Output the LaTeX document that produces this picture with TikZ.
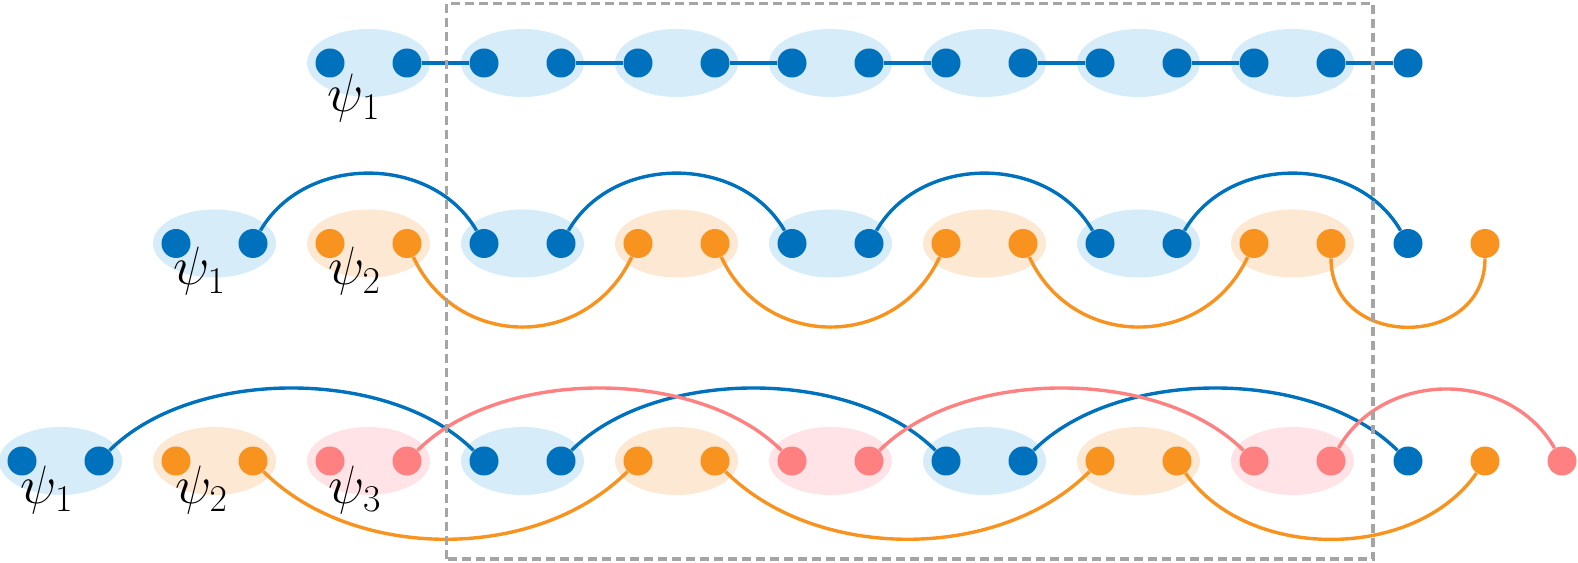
\RequirePackage{fix-cm}
\documentclass[tikz,border=0pt]{standalone}
\usetikzlibrary{shapes.geometric}
\definecolor{cB}{RGB}{0,114,189}
\definecolor{cO}{RGB}{247,147,30}
\definecolor{cP}{RGB}{255,128,128}
\definecolor{fB}{RGB}{214,236,248}
\definecolor{fO}{RGB}{253,232,211}
\definecolor{fP}{RGB}{255,227,230}
\definecolor{boxgray}{RGB}{165,165,165}
\tikzset{
  ell/.style={ellipse, draw=none, minimum width=61.5pt, minimum height=34pt, inner sep=0pt},
  dot/.style={circle, draw=none, minimum size=14.5pt, inner sep=0pt},
  link/.style={line width=1.7pt},
  lab/.style={inner sep=0pt, font=\fontsize{27}{31}\selectfont},
  frame/.style={draw=boxgray, line width=1.8pt, dash pattern=on 4.5pt off 2.5pt},
}
\begin{document}
\begin{tikzpicture}[x=0.5pt,y=0.5pt]
\useasboundingbox (0,0) rectangle (1578,562);
% ---------- ellipses ----------
\foreach \k in {4,6,8,10,12,14,16} \node[ell, fill=fB] (r1e\k) at ({22+77*(\k+0.5)},499) {};
\foreach \k in {2,6,10,14} \node[ell, fill=fB] (r2e\k) at ({22+77*(\k+0.5)},318.5) {};
\foreach \k in {4,8,12,16} \node[ell, fill=fO] (r2e\k) at ({22+77*(\k+0.5)},318.5) {};
\foreach \k in {0,6,12} \node[ell, fill=fB] (r3e\k) at ({22+77*(\k+0.5)},101) {};
\foreach \k in {2,8,14} \node[ell, fill=fO] (r3e\k) at ({22+77*(\k+0.5)},101) {};
\foreach \k in {4,10,16} \node[ell, fill=fP] (r3e\k) at ({22+77*(\k+0.5)},101) {};
% ---------- dots ----------
\foreach \k in {4,...,18} \node[dot, fill=cB] (r1d\k) at ({22+77*\k},499) {};
\foreach \k in {2,3,6,7,10,11,14,15,18} \node[dot, fill=cB] (r2d\k) at ({22+77*\k},318.5) {};
\foreach \k in {4,5,8,9,12,13,16,17,19} \node[dot, fill=cO] (r2d\k) at ({22+77*\k},318.5) {};
\foreach \k in {0,1,6,7,12,13,18} \node[dot, fill=cB] (r3d\k) at ({22+77*\k},101) {};
\foreach \k in {2,3,8,9,14,15,19} \node[dot, fill=cO] (r3d\k) at ({22+77*\k},101) {};
\foreach \k in {4,5,10,11,16,17,20} \node[dot, fill=cP] (r3d\k) at ({22+77*\k},101) {};
% ---------- labels ----------
\node[lab] (l11) at (354,464) {$\psi_1$};
\node[lab] (l21) at (199.5,290.5) {$\psi_1$};
\node[lab] (l22) at (354.5,290.5) {$\psi_2$};
\node[lab] (l31) at (47,72) {$\psi_1$};
\node[lab] (l32) at (201.5,72) {$\psi_2$};
\node[lab] (l33) at (355,72) {$\psi_3$};
% ---------- row 1 links ----------
\foreach \a/\b in {5/6,7/8,9/10,11/12,13/14,15/16,17/18}
  \draw[link, cB] (r1d\a) -- (r1d\b);
% ---------- row 2 links ----------
\foreach \a/\b in {3/6,7/10,11/14,15/18}
  \draw[link, cB] (r2d\a) to[out=60,in=120,looseness=1.05] (r2d\b);
\foreach \a/\b in {5/8,9/12,13/16}
  \draw[link, cO] (r2d\a) to[out=-65,in=-115,looseness=1.21] (r2d\b);
\draw[link, cO] (r2d17) to[out=-90,in=-90,looseness=1.53] (r2d19);
% ---------- row 3 links ----------
\foreach \a/\b in {1/6,7/12,13/18}
  \draw[link, cB] (r3d\a) to[out=45,in=135,looseness=0.83] (r3d\b);
\foreach \a/\b in {5/10,11/16}
  \draw[link, cP] (r3d\a) to[out=45,in=135,looseness=0.83] (r3d\b);
\draw[link, cP] (r3d17) to[out=60,in=120,looseness=1.08] (r3d20);
\foreach \a/\b in {3/8,9/14}
  \draw[link, cO] (r3d\a) to[out=-45,in=-135,looseness=0.9] (r3d\b);
\draw[link, cO] (r3d15) to[out=-55,in=-125,looseness=0.95] (r3d19);
% ---------- dashed frame ----------
\draw[frame] (446.5,3) rectangle (1373,558.5);
\end{tikzpicture}
\end{document}
